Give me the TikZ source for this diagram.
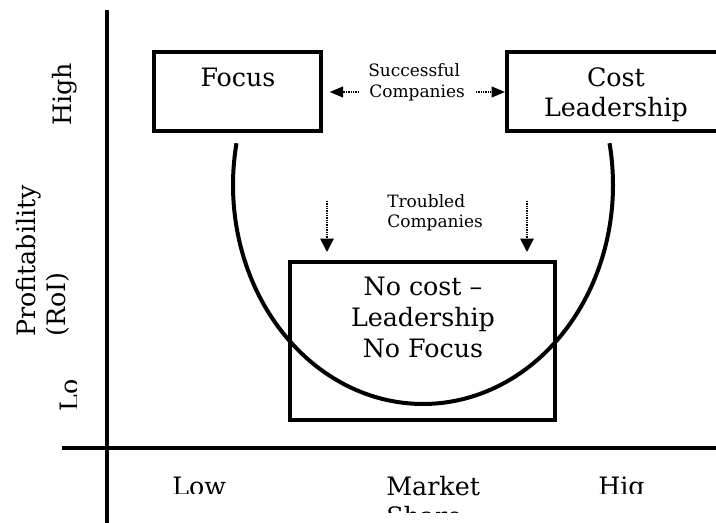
\documentclass[tikz,border=0pt]{standalone}
\usepackage{fontspec}
\setmainfont{DejaVu Serif}
\usetikzlibrary{arrows.meta}
\begin{document}
\begin{tikzpicture}[x=0.75pt,y=-0.75pt,
  big/.style={font=\fontsize{19}{22.5}\selectfont, inner sep=0pt},
  small/.style={font=\fontsize{12.75}{15.5}\selectfont, inner sep=0pt},
  boxed/.style={draw, line width=3pt, inner sep=0pt},
  axis/.style={line width=3pt},
  dotarrow/.style={line width=1.4pt, dash pattern=on 0.7pt off 0.6pt},
  harrow/.style={dotarrow, -{Triangle[length=10pt,width=8pt]}},
  varrow/.style={dotarrow, -{Triangle[length=10pt,width=10pt]}},
]
\useasboundingbox (0,0) rectangle (716,523);
\clip (0,0) rectangle (716,523);

% axes
\coordinate (ytop) at (107,10);
\coordinate (ybot) at (107,530);
\coordinate (xl) at (62,448);
\coordinate (xr) at (722,448);
\draw[axis] (ytop) -- (ybot);
\draw[axis] (xl) -- (xr);

% boxes
\node[boxed, minimum width=125.25pt, minimum height=59.25pt] (focus) at (237.5,91.5) {};
\node[boxed, minimum width=163.5pt, minimum height=59.25pt] (cost) at (616,91.5) {};
\node[boxed, minimum width=198.75pt, minimum height=118.5pt] (nocost) at (422.5,341) {};

% U curve
\draw[line width=3pt] plot[domain=-11:191, samples=120, smooth] ({423+190*cos(\x)}, {185+219*sin(\x)});

% box texts
\node[big, anchor=base] (tfocus) at (238,87) {Focus};
\node[big, anchor=base] (tcost1) at (616,87) {Cost};
\node[big, anchor=base] (tcost2) at (616,117) {Leadership};
\node[big, anchor=base] (tn1) at (423,296) {No cost –};
\node[big, anchor=base] (tn2) at (423,327) {Leadership};
\node[big, anchor=base] (tn3) at (423,357) {No Focus};

% small labels
\node[small, anchor=base west] (succ1) at (368,77) {Successful};
\node[small, anchor=base west] (succ2) at (369,98) {Companies};
\node[small, anchor=base west] (trou1) at (387,208) {Troubled};
\node[small, anchor=base west] (trou2) at (387,228) {Companies};

% arrows
\coordinate (sl) at (359,92);
\coordinate (sr) at (476,92);
\draw[harrow, shorten >=5pt] (sl) -- (sl -| focus.east);
\draw[harrow] (sr) -- (sr -| cost.west);
\coordinate (dl) at (327,201);
\coordinate (dr) at (527,201);
\draw[varrow, shorten >=6pt] (dl) -- (dl |- nocost.north);
\draw[varrow, shorten >=6pt] (dr) -- (dr |- nocost.north);

% axis labels
\node[big, rotate=90, anchor=base west] (highy) at (71,126) {High};
\node[big, rotate=90, anchor=base west] (prof1) at (35,337) {Profitability};
\node[big, rotate=90, anchor=base west] (prof2) at (65,337) {(RoI)};
\begin{scope}
  \clip (0,0) rectangle (76,523);
  \node[big, rotate=90, anchor=base west] (lowy) at (78,412) {Lo};
\end{scope}
\begin{scope}
  \clip (0,0) rectangle (716,493);
  \node[big, anchor=base west] (lowx) at (172,495.5) {Low};
  \node[big, anchor=base west] (highx) at (598,495.5) {Hig};
\end{scope}
\begin{scope}
  \clip (0,0) rectangle (716,512);
  \node[big, anchor=base west] (mk1) at (386,495) {Market};
  \node[big, anchor=base west] (mk2) at (386,525) {Share};
\end{scope}
\end{tikzpicture}
\end{document}
